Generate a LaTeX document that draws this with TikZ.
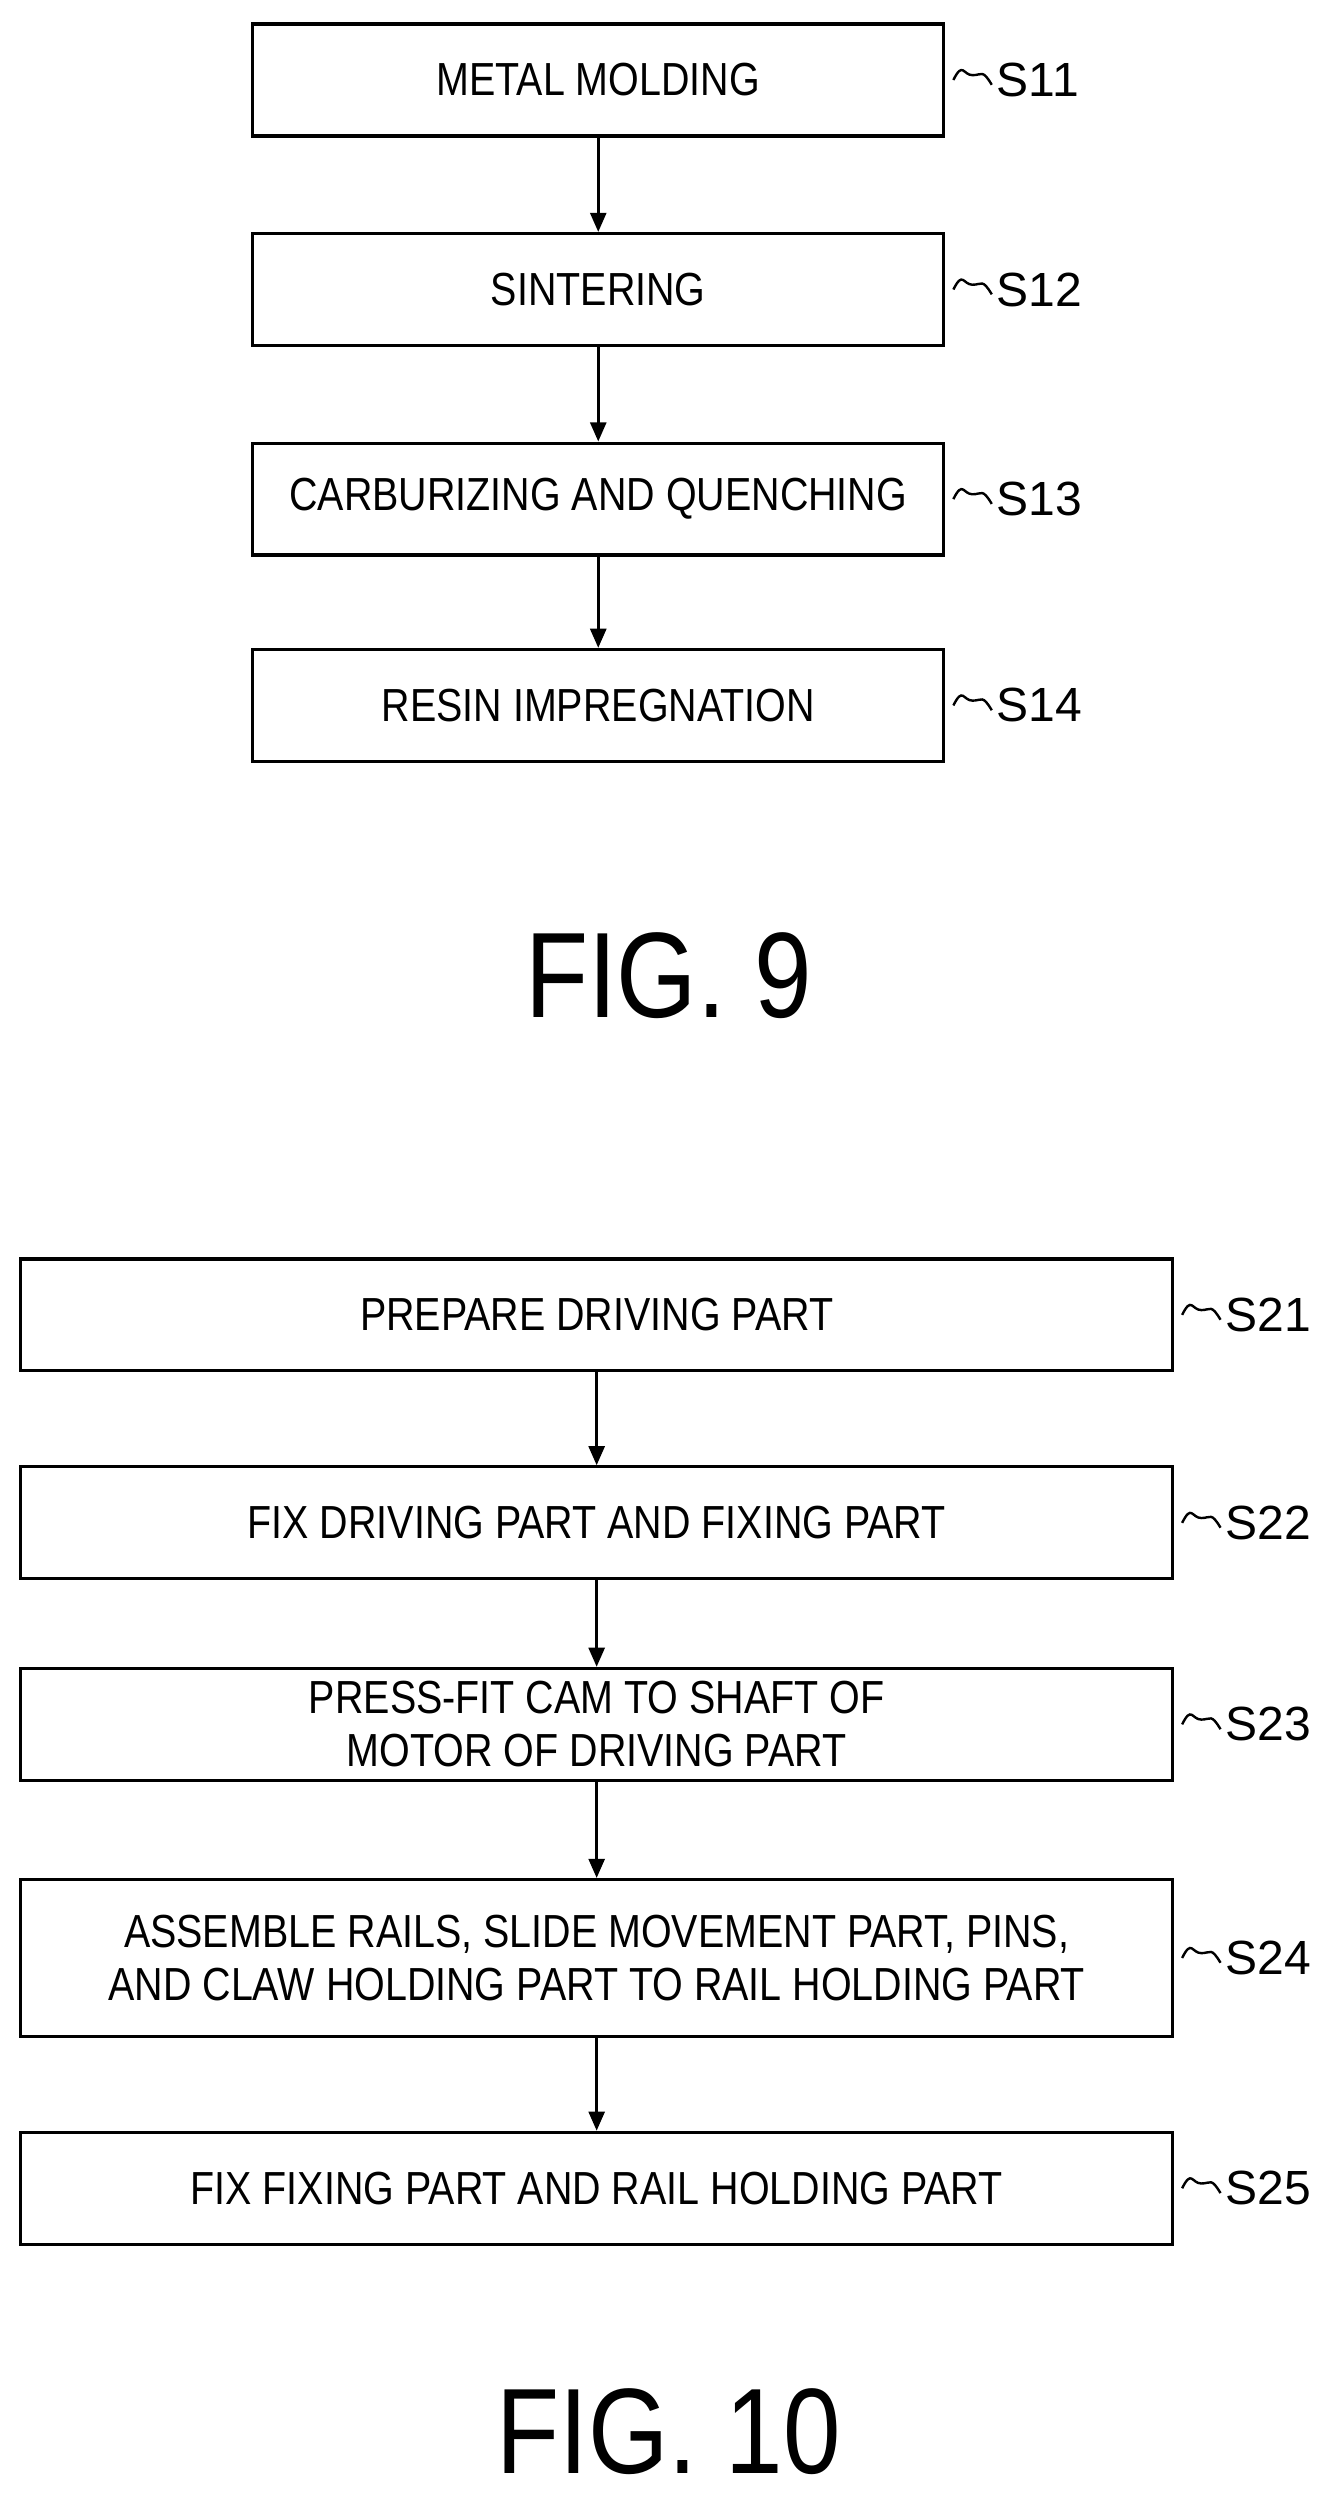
\documentclass[tikz,border=0pt]{standalone}
\usepackage{fontspec}
\setmainfont{Liberation Sans}
\newfontfamily\cond[FakeStretch=0.85]{Liberation Sans}
\usetikzlibrary{arrows.meta}
\begin{document}
\begin{tikzpicture}[x=1pt,y=-1pt,
  box/.style={draw,line width=2pt,minimum height=#1,align=center,inner sep=0pt,font=\cond\fontsize{29}{33}\selectfont},
  box/.default=70,
  arr/.style={line width=1.8pt,-{Triangle[length=12pt,width=10pt]}},
  lab/.style={anchor=west,font=\fontsize{30}{32}\selectfont,inner sep=0pt},
  fig/.style={font=\cond\fontsize{76}{80}\selectfont,inner sep=0pt},
  tl/.style={line width=1.5pt}]
\useasboundingbox (0,0) rectangle (834,1561);
\newcommand\stepl[3]{%
  \draw[tl] ([xshift=5]#1.east) .. controls +(6,-12) and +(-6,0) .. +(12,-3) .. controls +(6,0) and +(-6,-10) .. +(24,3);
  \node[lab] (#2) at ([xshift=32]#1.east) {#3};}
% FIG 9
\node[box,minimum width=432] (a1) at (374,50) {METAL MOLDING};
\node[box,minimum width=432] (a2) at (374,181) {SINTERING};
\node[box,minimum width=432] (a3) at (374,312) {CARBURIZING AND QUENCHING};
\node[box,minimum width=432] (a4) at (374,441) {RESIN IMPREGNATION};
\draw[arr] (a1) -- (a2); \draw[arr] (a2) -- (a3); \draw[arr] (a3) -- (a4);
\stepl{a1}{l1}{S11}\stepl{a2}{l2}{S12}\stepl{a3}{l3}{S13}\stepl{a4}{l4}{S14}
\node[fig] (f9) at (418,610) {FIG. 9};
% FIG 10
\node[box,minimum width=720] (b1) at (373,822) {PREPARE DRIVING PART};
\node[box,minimum width=720] (b2) at (373,952) {FIX DRIVING PART AND FIXING PART};
\node[box,minimum width=720] (b3) at (373,1078) {PRESS-FIT CAM TO SHAFT OF\\MOTOR OF DRIVING PART};
\node[box=98,minimum width=720] (b4) at (373,1224) {ASSEMBLE RAILS, SLIDE MOVEMENT PART, PINS,\\AND CLAW HOLDING PART TO RAIL HOLDING PART};
\node[box,minimum width=720] (b5) at (373,1368) {FIX FIXING PART AND RAIL HOLDING PART};
\draw[arr] (b1) -- (b2); \draw[arr] (b2) -- (b3); \draw[arr] (b3) -- (b4); \draw[arr] (b4) -- (b5);
\stepl{b1}{m1}{S21}\stepl{b2}{m2}{S22}\stepl{b3}{m3}{S23}\stepl{b4}{m4}{S24}\stepl{b5}{m5}{S25}
\node[fig] (f10) at (418,1520) {FIG. 10};
\end{tikzpicture}
\end{document}
